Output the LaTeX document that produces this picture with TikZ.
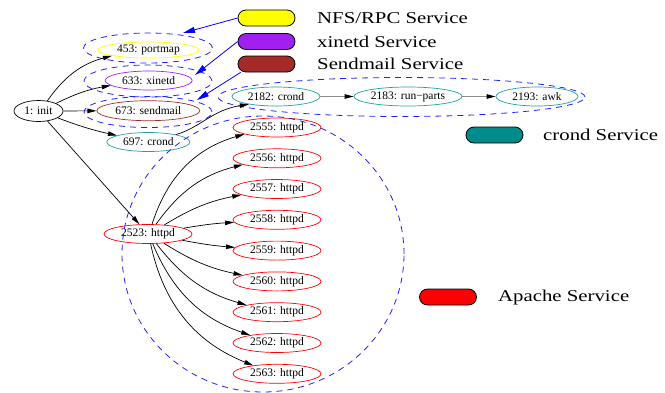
\documentclass[tikz,border=0pt]{standalone}
\usepackage{fontspec}
\setmainfont{Liberation Serif}
\newfontfamily\legendfont[FakeStretch=1.26]{Liberation Serif}
\usetikzlibrary{shapes.geometric,arrows.meta}
\definecolor{nfsc}{HTML}{FFFF00}
\definecolor{xinc}{HTML}{A020F0}
\definecolor{sndc}{HTML}{A52A2A}
\definecolor{crnc}{HTML}{008B8B}
\definecolor{crnline}{HTML}{20A0A0}
\definecolor{apac}{HTML}{FF0000}
\definecolor{grpc}{HTML}{2020FF}
\begin{document}
\begin{tikzpicture}[x=1pt,y=-1pt,
  proc/.style={ellipse, draw, inner sep=0pt, line width=0.7pt, minimum height=19pt,
    font=\fontsize{11.5}{12}\selectfont},
  grp/.style={ellipse, draw=grpc, dash pattern=on 6pt off 5pt, line width=0.8pt, inner sep=0pt},
  legbox/.style={draw=black, line width=0.8pt, rounded corners=8pt, minimum width=57pt,
    minimum height=16pt, inner sep=0pt},
  legtext/.style={anchor=west, inner sep=0pt, font=\legendfont\fontsize{16.5}{18}\selectfont},
  arr/.style={draw=black, line width=0.7pt, -{Triangle[length=9pt,width=4.5pt]}},
  grayarr/.style={draw=black!45, line width=1pt, -{Triangle[length=9pt,width=4.5pt,color=black]}},
  bluearr/.style={draw=blue, line width=0.8pt, -{Triangle[length=12pt,width=6pt]}}]
\useasboundingbox (0,0) rectangle (665,392);

% process nodes
\node[proc, minimum width=49pt, minimum height=21pt] (init) at (38.5,111) {1: init};
\node[proc, draw=nfsc, minimum width=101pt, minimum height=16pt] (portmap) at (148.5,50) {453: portmap};
\node[proc, draw=xinc, minimum width=87pt] (xinetd) at (148.7,80.5) {633: xinetd};
\node[proc, draw=sndc, minimum width=103pt, minimum height=20pt] (sendmail) at (148.3,110.7) {673: sendmail};
\node[proc, draw=crnline, minimum width=83pt] (crondA) at (148.3,142) {697: crond};
\node[proc, draw=crnline, minimum width=88pt] (crondB) at (276,96.5) {2182: crond};
\node[proc, draw=crnline, minimum width=108pt] (runparts) at (408,96.5) {2183: run−parts};
\node[proc, draw=crnline, minimum width=82pt] (awk) at (537,96.5) {2193: awk};
\node[proc, draw=apac, minimum width=88pt] (httpd) at (148,234) {2523: httpd};
\foreach \n/\y in {2555/127.5,2556/158.3,2557/189,2558/219.8,2559/250.6,2560/281.4,2561/312.2,2562/343,2563/373.8}{
  \node[proc, draw=apac, minimum width=88pt] (h\n) at (277,\y) {\n: httpd};
}

% dashed groups
\node[grp, minimum width=129pt, minimum height=30pt] (gport) at (148,48) {};
\node[grp, minimum width=128pt, minimum height=32pt] (gxin) at (148,81) {};
\node[grp, minimum width=128pt, minimum height=31pt] (gsnd) at (148,112) {};
\node[grp, minimum width=367pt, minimum height=39pt] (gcron) at (401.5,97) {};
\node[grp, minimum width=282pt, minimum height=276pt] (gapa) at (263,254) {};

% legend
\node[legbox, fill=nfsc] (lg1) at (266.5,18) {};
\node[legbox, fill=xinc] (lg2) at (266.5,41.5) {};
\node[legbox, fill=sndc] (lg3) at (266.5,64) {};
\node[legbox, fill=crnc] (lg4) at (494.5,135) {};
\node[legbox, fill=apac] (lg5) at (448,297) {};
\node[legtext] (lt1) at (317,18) {NFS/RPC Service};
\node[legtext] (lt2) at (317,41.5) {xinetd Service};
\node[legtext] (lt3) at (317,64) {Sendmail Service};
\node[legtext] (lt4) at (543,135) {crond Service};
\node[legtext] (lt5) at (498,297.5) {Apache Service};

% legend arrows
\coordinate (tA) at (183,33);
\coordinate (tB) at (195,75);
\coordinate (tC) at (197,100);
\draw[bluearr] (lg1.west) -- (tA);
\draw[bluearr] (lg2.west) -- (tB);
\draw[bluearr] ([xshift=3pt]lg3.south west) -- (tC);

% init edges
\draw[arr] (init) to[bend left=20] (portmap);
\draw[arr] (init) to[bend left=8] (xinetd);
\draw[arr] (init) -- (sendmail);
\draw[arr] (init) to[bend right=4] (crondA);
\draw[arr] (init) -- (httpd);

% crond chain
\draw[arr] (crondA) .. controls (200,128) and (212,110) .. (crondB.196);
\draw[grayarr] (crondB) -- (runparts);
\draw[grayarr] (runparts) -- (awk);

% httpd children
\draw[arr] (httpd) to[bend left=28] (h2555);
\draw[arr] (httpd) to[bend left=20] (h2556);
\draw[arr] (httpd) to[bend left=10] (h2557);
\draw[arr] (httpd) to[bend left=3] (h2558);
\draw[arr] (httpd) to[bend right=3] (h2559);
\draw[arr] (httpd) to[bend right=10] (h2560);
\draw[arr] (httpd) to[bend right=18] (h2561);
\draw[arr] (httpd) to[bend right=24] (h2562);
\draw[arr] (httpd) to[bend right=28] (h2563);
\end{tikzpicture}
\end{document}
